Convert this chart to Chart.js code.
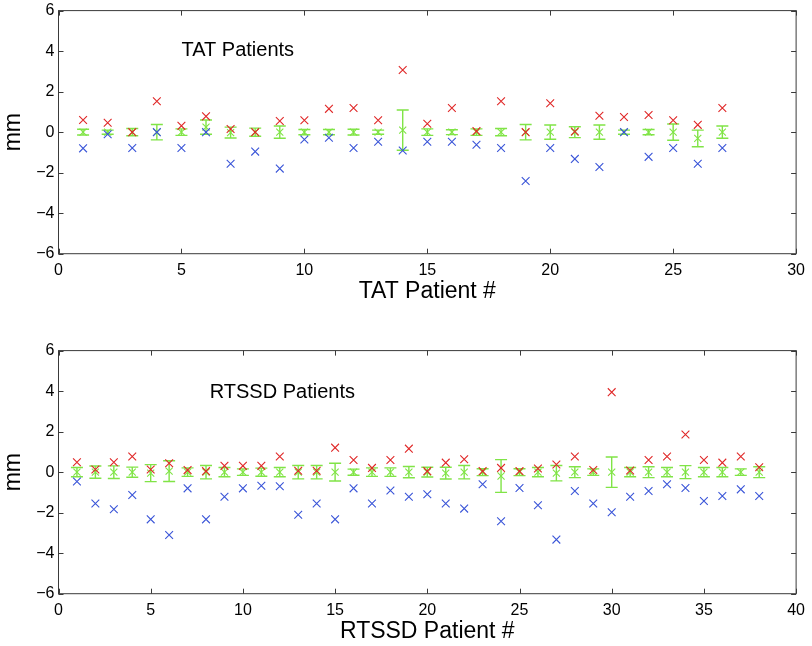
<!DOCTYPE html>
<html>
<head>
<meta charset="utf-8">
<script src="https://cdn.jsdelivr.net/npm/chart.js@4.4.1/dist/chart.umd.min.js"></script>
<style>
  html, body { margin: 0; padding: 0; background: #fff; }
  #wrap { position: relative; width: 812px; height: 646px; overflow: hidden; }
  canvas { position: absolute; left: 0; }
  #c1 { top: -3px; }
  #c2 { top: 337px; }
</style>
</head>
<body>
<div id="wrap">
  <canvas id="c1" width="812" height="309"></canvas>
  <canvas id="c2" width="812" height="309"></canvas>
</div>
<script>
// TAT patients 1..27
var tatMax  = [0.6, 0.46, 0, 1.53, 0.31, 0.78, 0.16, 0, 0.55, 0.59, 1.15, 1.19, 0.59, 3.07, 0.41, 1.19, 0.05, 1.53, 0, 1.43, 0.03, 0.81, 0.75, 0.85, 0.59, 0.36, 1.19];
var tatMin  = [-0.8, -0.1, -0.78, 0, -0.78, 0, -1.56, -0.96, -1.8, -0.36, -0.28, -0.78, -0.47, -0.91, -0.47, -0.47, -0.62, -0.78, -2.41, -0.78, -1.32, -1.72, 0, -1.22, -0.78, -1.56, -0.78];
var tatMean = [0, 0, 0, 0, 0, 0.25, -0.02, 0, 0, 0, 0, 0, 0, 0.1, 0, 0, 0, 0, 0, 0, 0, 0, 0, 0, 0, -0.31, 0];
var tatStd  = [0.14, 0.1, 0.18, 0.38, 0.16, 0.35, 0.27, 0.2, 0.3, 0.13, 0.13, 0.14, 0.1, 0.99, 0.16, 0.12, 0.16, 0.18, 0.38, 0.35, 0.27, 0.35, 0.1, 0.13, 0.4, 0.41, 0.3];

// RTSSD patients 1..38
var rtMax  = [0.49, 0.13, 0.49, 0.77, 0.13, 0.44, 0.1, 0.05, 0.31, 0.31, 0.31, 0.77, 0.07, 0.07, 1.21, 0.6, 0.21, 0.6, 1.16, 0.05, 0.47, 0.64, 0.05, 0.21, 0.05, 0.18, 0.38, 0.77, 0.11, 3.95, 0.08, 0.6, 0.77, 1.86, 0.6, 0.47, 0.77, 0.24];
var rtMin  = [-0.46, -1.55, -1.83, -1.13, -2.33, -3.1, -0.8, -2.33, -1.21, -0.8, -0.67, -0.7, -2.1, -1.55, -2.33, -0.8, -1.55, -0.91, -1.21, -1.09, -1.55, -1.8, -0.6, -2.42, -0.78, -1.63, -3.33, -0.93, -1.55, -1.98, -1.21, -0.93, -0.6, -0.78, -1.42, -1.18, -0.85, -1.18];
var rtMean = [0, 0, 0, 0, -0.05, 0.05, 0, 0, 0, 0, 0, 0, 0, 0, 0, 0, 0, 0, 0, 0, -0.05, 0, 0, -0.19, 0, 0, -0.05, 0, 0, 0, 0, 0, 0, 0, 0, 0, 0, 0];
var rtStd  = [0.23, 0.3, 0.31, 0.25, 0.42, 0.51, 0.21, 0.33, 0.23, 0.16, 0.2, 0.23, 0.33, 0.33, 0.44, 0.15, 0.21, 0.21, 0.28, 0.24, 0.29, 0.33, 0.17, 0.81, 0.17, 0.23, 0.38, 0.27, 0.16, 0.75, 0.23, 0.27, 0.23, 0.32, 0.23, 0.23, 0.16, 0.27];

var yTicks = [-6, -4, -2, 0, 2, 4, 6];

var RED = '#e02828';
var BLUE = '#3a55d8';
var GREEN = '#80e446';
var FONT = 'Liberation Sans, Arial, Helvetica, sans-serif';

function pts(arr) {
  return arr.map(function (v, i) { return { x: i + 1, y: v }; });
}

// error bars, frame with inward ticks, inner label
var frame = {
  id: 'frame',
  beforeDatasetsDraw: function (chart) {
    var o = chart.options.plugins.frame;
    var xs = chart.scales.x, ys = chart.scales.y, ctx = chart.ctx;
    ctx.save();
    ctx.strokeStyle = GREEN;
    ctx.lineWidth = 1.4;
    o.mean.forEach(function (m, i) {
      var px = xs.getPixelForValue(i + 1);
      var y1 = ys.getPixelForValue(m + o.std[i]);
      var y2 = ys.getPixelForValue(m - o.std[i]);
      ctx.beginPath();
      ctx.moveTo(px, y1); ctx.lineTo(px, y2);
      ctx.moveTo(px - 6, y1); ctx.lineTo(px + 6, y1);
      ctx.moveTo(px - 6, y2); ctx.lineTo(px + 6, y2);
      ctx.stroke();
    });
    ctx.restore();
  },
  afterDraw: function (chart) {
    var o = chart.options.plugins.frame;
    var xs = chart.scales.x, ys = chart.scales.y, ctx = chart.ctx;
    var a = chart.chartArea;
    ctx.save();
    ctx.strokeStyle = '#3a3a3a';
    ctx.lineWidth = 1;
    ctx.strokeRect(a.left, a.top, a.right - a.left, a.bottom - a.top);
    ctx.beginPath();
    xs.ticks.forEach(function (t) {
      var px = Math.round(xs.getPixelForValue(t.value)) + 0.5;
      ctx.moveTo(px, a.bottom); ctx.lineTo(px, a.bottom - 5);
      ctx.moveTo(px, a.top); ctx.lineTo(px, a.top + 5);
    });
    ys.ticks.forEach(function (t) {
      var py = Math.round(ys.getPixelForValue(t.value)) + 0.5;
      ctx.moveTo(a.left, py); ctx.lineTo(a.left + 5, py);
      ctx.moveTo(a.right, py); ctx.lineTo(a.right - 5, py);
    });
    ctx.stroke();
    ctx.fillStyle = '#000';
    ctx.font = '20px ' + FONT;
    ctx.textBaseline = 'middle';
    ctx.textAlign = 'left';
    ctx.fillText(o.label, xs.getPixelForValue(o.lx), ys.getPixelForValue(o.ly));
    ctx.restore();
  }
};

function makeChart(id, maxV, minV, meanV, stdV, xMax, xTitle, label, lx, ly) {
  return new Chart(document.getElementById(id), {
    type: 'scatter',
    data: {
      datasets: [
        { data: pts(maxV), pointStyle: 'crossRot', pointRadius: 5.5, borderColor: RED, borderWidth: 1.1, backgroundColor: RED },
        { data: pts(minV), pointStyle: 'crossRot', pointRadius: 5.5, borderColor: BLUE, borderWidth: 1.1, backgroundColor: BLUE },
        { data: pts(meanV), pointStyle: 'crossRot', pointRadius: 5, borderColor: GREEN, borderWidth: 1.1, backgroundColor: GREEN }
      ]
    },
    options: {
      responsive: false,
      animation: false,
      events: [],
      layout: { padding: { top: 6.5, right: 12, bottom: 0, left: 0 } },
      plugins: {
        legend: { display: false },
        tooltip: { enabled: false },
        frame: { mean: meanV, std: stdV, label: label, lx: lx, ly: ly }
      },
      scales: {
        x: {
          type: 'linear', min: 0, max: xMax,
          grid: { display: false, drawTicks: false },
          border: { display: false },
          ticks: { stepSize: 5, padding: 7, color: '#000', font: { family: FONT, size: 16 } },
          title: { display: true, text: xTitle, color: '#000', font: { family: FONT, size: 23 }, padding: { top: 0, bottom: 0.5 } },
          afterFit: function (s) { s.height = 52.3; }
        },
        y: {
          type: 'linear', min: -6, max: 6,
          afterBuildTicks: function (s) { s.ticks = yTicks.map(function (v) { return { value: v }; }); },
          grid: { display: false, drawTicks: false },
          border: { display: false },
          ticks: {
            padding: 4, color: '#000', font: { family: FONT, size: 16 },
            callback: function (v) { return String(v).replace('-', '\u2212'); }
          },
          title: { display: true, text: 'mm', color: '#000', font: { family: FONT, size: 23 }, padding: 0 },
          afterFit: function (s) { s.width = 58.5; }
        }
      }
    },
    plugins: [frame]
  });
}

makeChart('c1', tatMax, tatMin, tatMean, tatStd, 30, 'TAT Patient #', 'TAT Patients', 5, 4.05);
makeChart('c2', rtMax, rtMin, rtMean, rtStd, 40, 'RTSSD Patient #', 'RTSSD Patients', 8.2, 3.95);
</script>
</body>
</html>
